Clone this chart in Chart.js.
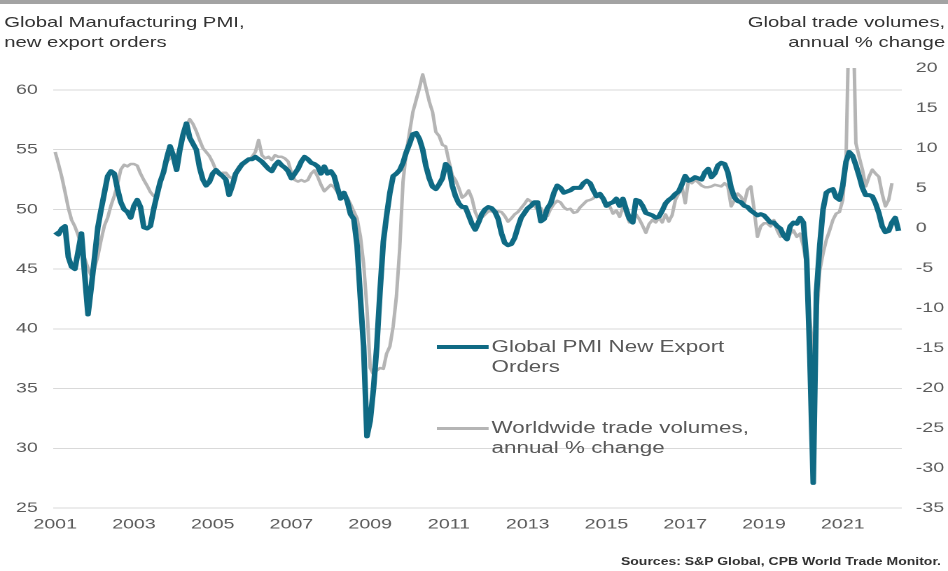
<!DOCTYPE html>
<html>
<head>
<meta charset="utf-8">
<script src="https://cdn.jsdelivr.net/npm/chart.js@4.4.0/dist/chart.umd.min.js"></script>
<style>
    html, body { margin: 0; padding: 0; background: #fff; overflow: hidden; }
    /* the source picture is stretched sideways, so the whole stage is too */
    #stage { position: relative; width: 677px; height: 571px; transform: scaleX(1.4003); transform-origin: 0 0;
             font-family: 'Liberation Sans', Arial, sans-serif; }
    #topbar { position: absolute; left: 0; top: 0; width: 677px; height: 4px; background: #a3a3a3; }
    .title { position: absolute; top: 12px; font-size: 14.5px; line-height: 20px; color: #333; white-space: nowrap; }
    #titleLeft { left: 3px; }
    #titleRight { right: 2px; text-align: right; }
    #chart2022 { position: absolute; left: 0; top: 0; }
    .swatch { position: absolute; left: 312px; width: 37px; }
    .legendText { position: absolute; left: 351px; font-size: 16px; line-height: 20px; color: #595959; white-space: nowrap; }
    #source { position: absolute; right: 5px; top: 556px; font-size: 10px; font-weight: bold; color: #333; white-space: nowrap; }
</style>
</head>
<body>
<div id="stage">
    <canvas id="chart2022" width="677" height="571"></canvas>
    <div id="topbar"></div>
    <div class="title" id="titleLeft">Global Manufacturing PMI,<br>new export orders</div>
    <div class="title" id="titleRight">Global trade volumes,<br>annual % change</div>
    <div class="swatch" style="top:345px;height:4px;background:#0f6a84"></div>
    <div class="legendText" style="top:337px">Global PMI New Export<br>Orders</div>
    <div class="swatch" style="top:427px;height:3px;background:#b5b5b5"></div>
    <div class="legendText" style="top:418px">Worldwide trade volumes,<br>annual % change</div>
    <div id="source">Sources: S&amp;P Global, CPB World Trade Monitor.</div>
</div>
<script>

const startYear = 2001;
const yearTicks = [2001, 2003, 2005, 2007, 2009, 2011, 2013, 2015, 2017, 2019, 2021];
const pmiTicks = [25, 30, 35, 40, 45, 50, 55, 60];
const tradeTicks = [-35, -30, -25, -20, -15, -10, -5, 0, 5, 10, 15, 20];

// Global PMI new export orders, monthly from Jan 2001
const pmiExportOrders = [
    48.1, 47.9, 48.4, 48.6, 46.0, 45.2, 45.0, 46.5, 48.0, 44.5, 41.2, 43.5,
    46.0, 48.5, 50.0, 51.4, 52.8, 53.2, 53.0, 51.7, 50.6, 50.0, 49.8, 49.3,
    50.3, 50.8, 50.2, 48.5, 48.4, 48.6, 50.0, 51.2, 52.3, 53.1, 54.3, 55.3,
    54.5, 53.3, 55.0, 56.3, 57.2, 56.0, 55.5, 55.0, 53.5, 52.5, 52.0, 52.3,
    53.0, 53.3, 53.0, 52.8, 52.5, 51.2, 52.0, 53.0, 53.4, 53.8, 54.0, 54.2,
    54.2, 54.4, 54.2, 54.0, 53.7, 53.4, 53.2, 53.7, 54.0, 53.7, 53.5, 53.2,
    52.6, 53.0, 53.4, 54.0, 54.4, 54.2, 53.9, 53.8, 53.6, 53.0, 53.6, 53.0,
    53.2, 52.8, 51.8, 50.9, 51.4, 50.7, 49.6, 49.2, 47.0, 42.6, 38.5, 31.0,
    32.3, 35.0, 38.5, 43.2, 47.3, 49.5, 51.4, 52.8, 53.0, 53.3, 53.9, 54.8,
    55.5, 56.3, 56.4, 55.9, 55.0, 53.6, 52.6, 51.9, 51.7, 52.1, 52.6, 53.8,
    53.5, 52.0, 51.1, 50.5, 50.2, 50.2, 49.5, 48.8, 48.3, 48.9, 49.6, 50.0,
    50.2, 50.1, 49.8, 49.2, 48.0, 47.2, 47.0, 47.1, 47.6, 48.5, 49.3, 49.7,
    50.1, 50.3, 50.6, 50.6, 49.0, 49.2, 50.1, 50.5, 51.4, 52.0, 51.8, 51.4,
    51.5, 51.6, 51.8, 51.8, 51.8, 52.2, 52.4, 52.2, 51.6, 51.1, 51.3, 50.9,
    50.3, 50.5, 50.6, 50.9, 50.3, 50.9, 50.0, 49.2, 48.9, 50.8, 50.7, 50.3,
    49.7, 49.6, 49.5, 49.3, 49.4, 49.9, 50.5, 50.8, 51.0, 51.3, 51.5, 52.1,
    52.8, 52.4, 52.5, 52.7, 52.6, 52.5, 53.1, 53.4, 52.7, 53.0, 53.7, 53.9,
    53.8, 53.1, 51.8, 51.0, 50.7, 50.6, 50.3, 50.2, 49.9, 49.7, 49.5, 49.6,
    49.5, 49.2, 48.9, 48.9, 48.6, 48.4, 47.8, 47.5, 48.6, 48.9, 48.8, 49.3,
    48.9, 45.8, 37.5, 27.1, 43.0, 47.0, 50.0, 51.4, 51.6, 51.7, 51.0, 50.8,
    52.0, 54.0, 54.8, 54.5, 53.7, 52.8, 51.8, 51.2, 51.2, 51.1, 50.5, 49.7,
    48.6, 48.1, 48.2, 48.9, 49.3, 48.2
];

// Worldwide trade volumes, annual % change, monthly from Jan 2001
const tradeVolumes = [
    9.5, 8.0, 6.4, 4.5, 2.5, 1.0, 0.2, -0.9, -2.3, -3.8, -5.0, -6.0,
    -5.0, -3.5, -1.5, 0.3, 1.3, 2.8, 4.0, 5.5, 7.3, 7.9, 7.7, 8.0,
    8.0, 7.8, 6.8, 6.0, 5.3, 4.5, 4.0, 4.1, 5.5, 7.2, 8.3, 8.7,
    9.3, 9.0, 10.0, 11.8, 12.8, 13.6, 13.0, 12.1, 11.0, 10.0, 9.5, 9.0,
    8.2, 7.2, 6.7, 6.9, 6.9, 6.4, 6.2, 7.0, 7.7, 7.8, 8.1, 8.5,
    8.9, 9.5, 11.0, 9.1, 8.7, 8.9, 8.5, 9.1, 8.9, 8.9, 8.7, 8.3,
    6.9, 6.0, 5.8, 6.0, 5.8, 6.0, 6.8, 7.2, 6.4, 5.4, 4.6, 5.0,
    5.4, 5.1, 4.5, 4.4, 4.2, 3.8, 3.0, 2.1, 1.2, -1.0, -4.5, -10.0,
    -17.5, -18.3, -17.8, -17.5, -17.6, -15.7, -14.8, -12.3, -8.5, -2.5, 5.8, 9.5,
    12.0, 14.5, 16.0, 17.5, 19.2, 17.5, 15.8, 14.5, 12.0, 11.5, 10.4, 10.2,
    8.3, 6.6, 6.0, 5.0, 3.8, 4.1, 4.7, 3.7, 2.0, 1.1, 1.3, 1.7,
    2.1, 2.1, 1.9, 2.1, 2.0, 1.5, 0.8, 1.2, 1.7, 2.0, 2.5, 3.0,
    3.6, 3.3, 2.8, 2.3, 2.5, 1.9, 1.5, 2.4, 3.0, 3.4, 3.2, 2.6,
    2.3, 2.4, 1.9, 2.0, 2.6, 3.0, 3.4, 3.5, 3.7, 4.3, 3.9, 3.5,
    3.1, 2.7, 1.8, 2.2, 1.4, 2.6, 1.8, 0.7, 1.3, 1.7, 1.1, 0.3,
    -0.6, 0.5, 1.0, 0.7, 1.3, 0.7, 1.7, 0.8, 1.6, 3.5, 4.3, 5.2,
    3.1, 6.0, 5.6, 6.0, 5.7, 5.3, 5.1, 5.1, 5.2, 5.4, 5.3, 5.2,
    5.6, 5.2, 2.7, 3.5, 4.3, 3.9, 3.1, 4.8, 5.2, 2.3, -1.1, 0.2,
    0.6, 0.6, 0.2, 1.0, -0.3, -1.1, -0.7, -1.5, -0.7, -0.3, -1.1, -0.7,
    -2.3, -4.8, -11.5, -15.7, -11.5, -5.3, -3.2, -1.5, -0.3, 1.0, 1.8, 2.0,
    3.5, 8.5, 28.0, 30.0, 10.6, 8.9, 7.3, 5.2, 6.4, 7.3, 6.8, 6.4,
    4.3, 2.7, 3.5, 5.6
];

chart2022();

function toPoints(values) {
    return values.map((v, i) => ({ x: startYear + i / 12, y: v }));
}

function fixedTicks(list) {
    return function (scale) {
        scale.ticks = list.map(v => ({ value: v }));
    };
}

function chart2022() {

    const ctx = document.getElementById('chart2022');
    const tickFont = { family: "'Liberation Sans', Arial, sans-serif", size: 14 };
    const tickColor = '#595959';

    new Chart(ctx, {
        type: 'line',
        data: {
            datasets: [{
                label: 'Global PMI New Export Orders',
                data: toPoints(pmiExportOrders),
                borderColor: '#0f6a84',
                borderWidth: 4,
                borderJoinStyle: 'round',
                pointRadius: 0,
                yAxisID: 'y',
                order: 1
            }, {
                label: 'Worldwide trade volumes, annual % change',
                data: toPoints(tradeVolumes),
                borderColor: '#b5b5b5',
                borderWidth: 2.5,
                borderJoinStyle: 'round',
                pointRadius: 0,
                yAxisID: 'y2',
                order: 2
            }]
        },
        options: {
            responsive: false,
            animation: false,
            devicePixelRatio: 2,
            layout: {
                padding: { top: 68, bottom: 33, left: 0, right: 0 }
            },
            plugins: {
                legend: { display: false },
                tooltip: { enabled: false }
            },
            scales: {
                x: {
                    type: 'linear',
                    min: 2000.95,
                    max: 2022.5,
                    grid: { display: false, drawTicks: false },
                    border: { display: false },
                    ticks: {
                        color: tickColor,
                        font: tickFont,
                        padding: 8,
                        maxRotation: 0,
                        autoSkip: false,
                        callback: v => String(v)
                    },
                    afterBuildTicks: fixedTicks(yearTicks),
                    afterFit: s => { s.height = 30; s.paddingLeft = 0; s.paddingRight = 0; }
                },
                y: {
                    position: 'left',
                    min: 25,
                    max: 61.84,
                    grid: { color: '#d9d9d9', lineWidth: 1, drawTicks: false },
                    border: { display: false },
                    ticks: {
                        color: tickColor,
                        font: tickFont,
                        padding: 11,
                        callback: v => String(v)
                    },
                    afterBuildTicks: fixedTicks(pmiTicks),
                    afterFit: s => { s.width = 38; s.paddingTop = 0; s.paddingBottom = 0; }
                },
                y2: {
                    position: 'right',
                    min: -35,
                    max: 20,
                    grid: { display: false, drawTicks: false },
                    border: { display: false },
                    ticks: {
                        color: tickColor,
                        font: tickFont,
                        padding: 10,
                        callback: v => String(v)
                    },
                    afterBuildTicks: fixedTicks(tradeTicks),
                    afterFit: s => { s.width = 33; s.paddingTop = 0; s.paddingBottom = 0; }
                }
            }
        }
    });

}
</script>
</body>
</html>
